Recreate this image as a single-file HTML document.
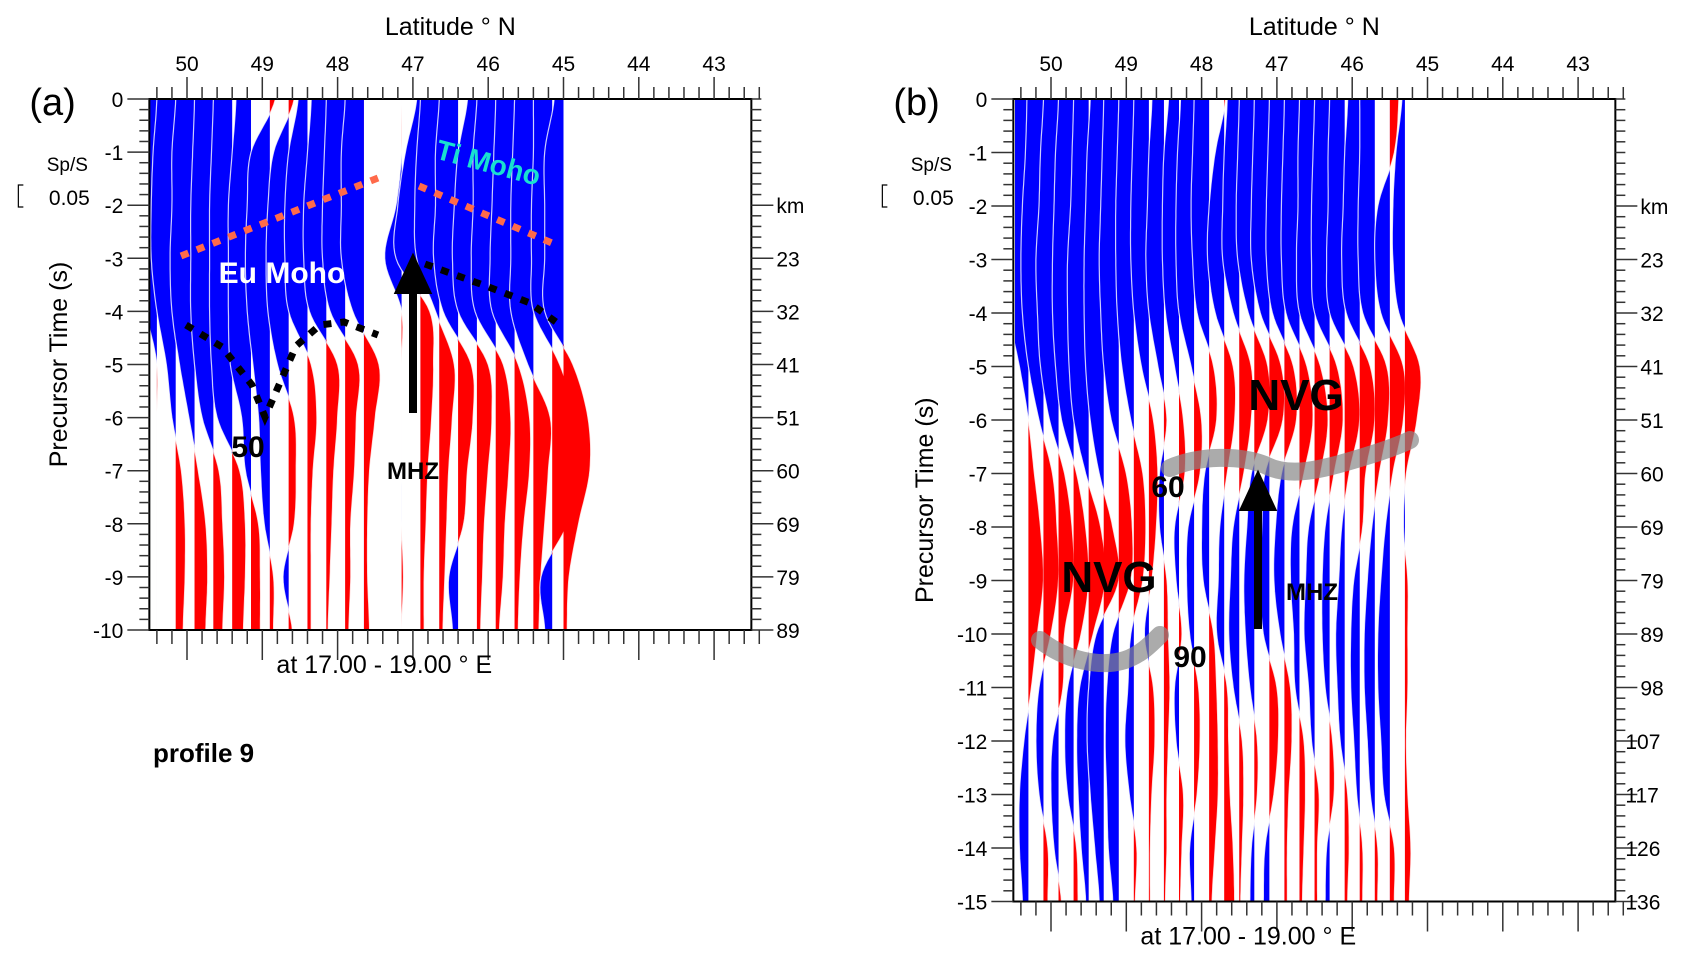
<!DOCTYPE html>
<html><head><meta charset="utf-8">
<style>
html,body{margin:0;padding:0;background:#fff;}
svg{display:block;font-family:"Liberation Sans",Arial,sans-serif;}
</style></head>
<body>
<svg id="fig" width="1684" height="964" viewBox="0 0 1684 964" xmlns="http://www.w3.org/2000/svg">
<defs>
<clipPath id="clipA"><rect x="149" y="99" width="602" height="531"/></clipPath>
<clipPath id="clipB"><rect x="1015" y="99" width="602" height="803"/></clipPath>
</defs>
<g id="panelA"></g>
<g id="panelB"></g>
</svg>
<script>
// ---------- DATA ----------
const latsA = [50.4,50.15,49.9,49.65,49.4,49.15,48.9,48.65,48.4,48.15,47.9,47.65,47.15,46.9,46.65,46.4,46.15,45.9,45.65,45.4,45.15,45.0];
const ampsA = [
[-1.2,-1.2,-1.3,-1.2,-0.6,0,0,0,0,0,0],
[-1,-1.2,-1.3,-1.3,-1,-0.5,-0.2,0.3,0.5,0.5,0.4],
[-1,-1.2,-1.2,-1.3,-1.2,-0.8,-0.3,0.2,0.6,0.7,0.6],
[-1,-1.1,-1.2,-1.2,-1.2,-1,-0.6,0.3,0.5,0.6,0.5],
[-1,-1.1,-1.2,-1.2,-1.2,-1.1,-0.8,0.4,0.7,0.7,0.6],
[-0.8,-1,-1.2,-1.2,-1.2,-1.1,-0.5,-0.3,0.4,0.5,0.5],
[0.3,-1,-1.2,-1.3,-1.2,-0.9,-0.6,-0.5,-0.3,0.2,0.2],
[0.3,-0.8,-1.1,-1.2,-1.1,-0.6,0.3,0.4,0.3,-0.3,0.2],
[-0.5,-1,-1.2,-1.2,-1,0.2,0.5,0.3,0.2,0.2,0.2],
[-0.8,-1,-1.2,-1.2,-0.9,0.6,0.6,0.4,0.3,0.2,0.1],
[-1,-1.1,-1.2,-1.2,-0.8,0.7,0.6,0.5,0.3,0.3,0.2],
[-1,-1.2,-1.2,-1.2,-0.6,0.8,0.6,0.3,0.2,0.2,0.3],
[0,0,-0.3,-0.9,0,0,0,0,0,0.1,0],
[-0.2,-0.8,-1.2,-1.3,0.5,0.7,0.6,0.4,0.3,0.2,0.2],
[-1,-1.2,-1.3,-1.2,-0.2,0.8,0.7,0.5,0.4,0.3,0.2],
[-1,-1.2,-1.2,-1.3,-0.8,0.7,0.8,0.5,0.3,-0.5,-0.3],
[-0.5,-1,-1.2,-1.3,-1,0.6,0.8,0.6,0.4,0.3,0.2],
[-1,-1.2,-1.2,-1.3,-1.1,0.4,0.8,0.7,0.5,0.4,0.2],
[-1,-1.1,-1.2,-1.3,-1.2,0.2,0.8,0.8,0.5,0.3,0.2],
[-1,-1.1,-1.2,-1.2,-1.2,-0.3,0.9,0.8,0.6,0.4,0.3],
[-1,-1,-1.1,-1.1,-1,0.4,1.2,1.3,0.8,-0.6,-0.4],
[-0.5,-1,-1,-1,-1,0.5,1.3,1.4,0.8,0.3,0.2]
];
const latsB = [50.3,50.1,49.9,49.7,49.5,49.3,49.1,48.9,48.7,48.5,48.3,48.1,47.9,47.7,47.5,47.3,47.1,46.9,46.7,46.5,46.3,46.1,45.9,45.7,45.5,45.3];
const ampsB = [
[-1.2,-1.3,-1.4,-1.5,-1.3,-0.6,0,0.4,0.8,1.0,0.6,0.2,-0.3,-0.6,-0.6,-0.4],
[-1.1,-1.2,-1.4,-1.5,-1.4,-1.0,-0.3,0.6,0.9,1.0,0.5,-0.3,-0.5,-0.3,0.3,0.3],
[-1.0,-1.2,-1.3,-1.5,-1.4,-1.2,-0.6,0.4,0.9,1.0,0.4,0.3,-0.4,-0.5,-0.3,0.2],
[-1.0,-1.2,-1.3,-1.4,-1.4,-1.2,-0.8,0.2,0.8,1.0,0.5,-0.4,-0.6,-0.4,0.2,0.3],
[-1.0,-1.1,-1.2,-1.4,-1.4,-1.3,-1.0,-0.2,0.8,1.1,0.3,-0.6,-0.8,-0.7,-0.5,-0.2],
[-0.9,-1.1,-1.2,-1.3,-1.3,-1.2,-0.9,-0.3,0.6,1.0,-0.5,-1.0,-1.1,-0.9,-0.6,-0.3],
[-1.0,-1.1,-1.2,-1.3,-1.2,-1.0,-0.5,0.5,0.9,0.8,-0.4,-0.8,-0.9,-0.8,-0.7,-0.4],
[-1.0,-1.1,-1.2,-1.2,-1.1,-0.8,-0.2,0.6,0.8,0.6,-0.2,-0.4,-0.6,-0.3,0.2,0.1],
[-1.0,-1.1,-1.2,-1.2,-1.0,-0.5,0.3,0.6,0.5,0.2,-0.3,0.3,0.4,0.2,0.1,0.1],
[-0.8,-1.0,-1.1,-1.2,-1.0,-0.4,0.2,-0.3,-0.3,0.2,0.3,0.4,0.3,0.2,0.2,0.1],
[-0.7,-1.0,-1.1,-1.1,-0.9,-0.3,0.3,0.4,-0.3,-0.2,0.2,-0.3,-0.2,0.3,0.2,0.1],
[-0.9,-1.1,-1.2,-1.2,-1.0,-0.2,0.5,0.4,-0.4,-0.5,-0.3,0.3,0.4,0.2,-0.3,-0.2],
[-1.0,-1.1,-1.2,-1.1,-0.8,0.3,0.5,-0.3,-0.5,-0.4,0.3,0.5,0.6,0.6,0.4,0.2],
[0.1,-0.6,-1.0,-1.1,-0.6,0.6,0.7,0.2,-0.3,-0.4,-0.5,0.2,0.3,0.4,0.6,0.7],
[-0.8,-1.0,-1.1,-1.1,-0.4,0.8,0.8,0.3,-0.4,-0.6,-0.7,-0.4,0.2,0.3,0.2,0.1],
[-1.0,-1.1,-1.2,-1.1,-0.4,0.9,0.9,-0.2,-0.5,-0.7,-0.6,-0.3,0.2,0.2,-0.2,-0.3],
[-1.0,-1.1,-1.2,-1.2,-0.6,0.8,0.9,-0.3,-0.5,-0.6,-0.4,0.5,0.6,0.3,-0.3,-0.4],
[-1.0,-1.1,-1.2,-1.2,-0.8,0.6,0.8,-0.2,-0.6,-0.7,-0.3,0.4,0.5,0.3,0.2,0.2],
[-1.0,-1.1,-1.2,-1.2,-0.9,0.5,0.9,0.3,-0.5,-0.6,-0.4,-0.3,0.3,0.4,0.3,0.2],
[-1.0,-1.1,-1.1,-1.2,-1.0,0.4,0.9,0.4,-0.4,-0.6,-0.7,-0.4,-0.2,0.3,0.2,0.2],
[-1.0,-1.1,-1.2,-1.2,-1.0,0.5,0.9,0.3,-0.3,-0.5,-0.5,-0.3,0.2,0.3,-0.2,-0.3],
[-1.0,-1.1,-1.1,-1.2,-1.0,0.6,1.0,0.3,-0.2,-0.4,-0.6,-0.5,-0.3,0.2,0.3,0.2],
[-0.8,-1.0,-1.1,-1.2,-0.9,0.7,1.0,0.4,0.2,-0.4,-0.6,-0.6,-0.4,-0.2,0.2,0.2],
[-1.0,-1.0,-1.1,-1.1,-0.8,0.8,0.9,0.3,-0.2,-0.5,-0.7,-0.7,-0.5,-0.3,0.2,0.2],
[0.6,0.3,-0.8,-1.0,-0.6,0.9,0.9,0.2,-0.3,-0.6,-0.8,-0.8,-0.6,-0.4,0.3,0.3],
[-0.2,-0.6,-0.8,-0.8,-0.4,1.0,0.8,0.1,-0.1,0.2,0.2,0.2,0.1,0.2,0.4,0.3]
];
const latTicks = [50,49,48,47,46,45,44,43];
const kmLabelsA = ["km","23","32","41","51","60","69","79","89"];
const kmLabelsB = ["km","23","32","41","51","60","69","79","89","98","107","117","126","136"];

// ---------- HELPERS ----------
const NS="http://www.w3.org/2000/svg";
function mk(parent,tag,attrs,txt){const e=document.createElementNS(NS,tag);for(const k in attrs)e.setAttribute(k,attrs[k]);if(txt!==undefined)e.textContent=txt;parent.appendChild(e);return e;}
function smooth(a,steps){
  const out=[];
  for(let i=0;i<a.length-1;i++){
    const p0=a[Math.max(i-1,0)],p1=a[i],p2=a[i+1],p3=a[Math.min(i+2,a.length-1)];
    for(let s=0;s<steps;s++){
      const t=s/steps,t2=t*t,t3=t2*t;
      out.push({t:i+t,v:0.5*((2*p1)+(-p0+p2)*t+(2*p0-5*p1+4*p2-p3)*t2+(-p0+3*p1-3*p2+p3)*t3)});
    }
  }
  out.push({t:a.length-1,v:a[a.length-1]});
  return out;
}

function drawPanel(g,cfg){
  const xs=lat=>cfg.x0+(50-lat)*75.3;
  const ys=t=>99-t*cfg.sy;
  const left=cfg.x0-0.5*75.3, right=left+602;
  const bottom=ys(-cfg.tmax);
  const tr=mk(g,'g',{'clip-path':'url(#'+cfg.clip+')'});
  
  
  const d=cfg.spacing*75.3;
  cfg.lats.forEach((lat,i)=>{
    const bx=xs(lat), s=smooth(cfg.amps[i],10);
    const last=cfg.amps[i].length-1;
    let pr=[bx+','+ys(0)], pb=[bx+','+ys(0)], pl=[];
    s.forEach(p=>{
      const y=ys(-p.t);
      pr.push((bx+Math.max(p.v,0)*d).toFixed(1)+','+y.toFixed(1));
      pb.push((bx+Math.min(p.v,0)*d).toFixed(1)+','+y.toFixed(1));
      pl.push((bx+p.v*d).toFixed(1)+','+y.toFixed(1));
    });
    pr.push(bx+','+ys(-last));pb.push(bx+','+ys(-last));
    const b=mk(tr,'polygon',{points:pb.join(' '),fill:'#0000ff'});
    
    
    const r=mk(tr,'polygon',{points:pr.join(' '),fill:'#ff0000'});
    
    
    const l=mk(tr,'polyline',{points:pl.join(' '),fill:'none',stroke:'#fff','stroke-width':1.2,opacity:0.8});
    
    
  });
  const fr=mk(g,'rect',{x:left,y:99,width:602,height:bottom-99,fill:'none',stroke:'#000','stroke-width':2});
  
  
  const ax=mk(g,'g',{stroke:'#333','stroke-width':1.5});
  
  
  for(let k=0;k<=40;k++){
    const lat=50.4-k*0.2, x=xs(lat);
    const major=Math.abs(lat-Math.round(lat))<0.01;
    mk(ax,'line',{x1:x,y1:99,x2:x,y2:99-(major?22:12)});
    mk(ax,'line',{x1:x,y1:bottom,x2:x,y2:bottom+(major?30:14)});
  }
  latTicks.forEach(v=>{
    const t=mk(g,'text',{x:xs(v),y:71,'font-size':21,'text-anchor':'middle'},String(v));
    
    
  });
  const ay=mk(g,'g',{stroke:'#333','stroke-width':1.5});
  
  
  for(let k=0;k<=cfg.tmax*5;k++){
    const t=-k/5, y=ys(t), major=k%5===0;
    mk(ay,'line',{x1:left,y1:y,x2:left-(major?22:10),y2:y});
    mk(ay,'line',{x1:right,y1:y,x2:right+(major&&k>=10?22:10),y2:y});
  }
  for(let s=0;s<=cfg.tmax;s++){
    const t=mk(g,'text',{x:left-26,y:ys(-s)+8,'font-size':21,'text-anchor':'end'},s===0?'0':String(-s));
    
    
  }
  cfg.km.forEach((lab,i)=>{
    const t=mk(g,'text',{x:right+(lab.length>2?10:25),y:ys(-(i+2))+8,'font-size':21},lab);
    
    
  });
  const tt=mk(g,'text',{x:(left+right)/2,y:35,'font-size':25,'text-anchor':'middle'},'Latitude ° N');
  
  
  const yt=mk(g,'text',{x:0,y:0,'font-size':25,'text-anchor':'middle',transform:'translate('+(cfg.ylx)+','+((99+bottom)/2)+') rotate(-90)'},'Precursor Time (s)');
  
  
  const bt=mk(g,'text',{x:xs(47.38),y:bottom+43,'font-size':25,'text-anchor':'middle'},'at 17.00 - 19.00 ° E');
  
  
  const pl=mk(g,'text',{x:left-120,y:115,'font-size':38},cfg.label);
  
  
  const sp=mk(g,'text',{x:left-82,y:171,'font-size':19,'text-anchor':'middle'},'Sp/S');
  
  
  const sv=mk(g,'text',{x:left-80,y:205,'font-size':21,'text-anchor':'middle'},'0.05');
  
  
  const sb=mk(g,'path',{d:'M'+(left-126)+',185 h-5 v22 h5',fill:'none',stroke:'#000','stroke-width':1.2});
  
  
  return {xs,ys};
}

drawPanel(document.getElementById('panelA'),{x0:187,sy:53.1,tmax:10,lats:latsA,amps:ampsA,spacing:0.25,clip:'clipA',km:kmLabelsA,ylx:67,label:'(a)'});
drawPanel(document.getElementById('panelB'),{x0:1051,sy:53.5,tmax:15,lats:latsB,amps:ampsB,spacing:0.2,clip:'clipB',km:kmLabelsB,ylx:933,label:'(b)'});

// ---------- ANNOTATIONS A ----------
const gA=document.getElementById('panelA');
let e;
e=mk(gA,'polyline',{points:'181,256 378,178',fill:'none',stroke:'#ff6a4a','stroke-width':7,'stroke-dasharray':'8 9'});

e=mk(gA,'polyline',{points:'419,186 559,246',fill:'none',stroke:'#ff6a4a','stroke-width':7,'stroke-dasharray':'8 9'});

e=mk(gA,'polyline',{points:'186,325 222,347 252,385 265,417 296,346 320,325 344,322 378,335',fill:'none',stroke:'#000','stroke-width':7,'stroke-dasharray':'8 9'});

e=mk(gA,'polyline',{points:'425,264 486,286 530,303 556,322',fill:'none',stroke:'#000','stroke-width':7,'stroke-dasharray':'8 9'});

e=mk(gA,'text',{x:486,y:172,'font-size':28,'font-weight':'bold',fill:'#19e0d0','text-anchor':'middle',transform:'rotate(15 486 172)'},'Ti Moho');

e=mk(gA,'text',{x:282,y:283,'font-size':30,'font-weight':'bold',fill:'#fff','text-anchor':'middle'},'Eu Moho');

e=mk(gA,'text',{x:248,y:457,'font-size':30,'font-weight':'bold','text-anchor':'middle'},'50');

e=mk(gA,'text',{x:413,y:479,'font-size':24,'font-weight':'bold','text-anchor':'middle'},'MHZ');

e=mk(gA,'path',{d:'M413,413 V288 M400,290 L413,262 L426,290 Z',stroke:'#000','stroke-width':8,fill:'#000'});

e=mk(gA,'text',{x:153,y:762,'font-size':26,'font-weight':'bold'},'profile 9');


// ---------- ANNOTATIONS B ----------
const gB=document.getElementById('panelB');
e=mk(gB,'path',{d:'M1040,640 C1065,660 1100,668 1125,660 C1140,655 1150,645 1160,635',fill:'none',stroke:'#888','stroke-width':18,opacity:0.7,'stroke-linecap':'round'});

e=mk(gB,'path',{d:'M1170,468 C1200,455 1240,455 1265,465 C1290,478 1320,470 1360,458 C1380,452 1400,445 1410,440',fill:'none',stroke:'#888','stroke-width':18,opacity:0.7,'stroke-linecap':'round'});

e=mk(gB,'text',{x:1296,y:410,'font-size':44,'font-weight':'bold','text-anchor':'middle'},'NVG');

e=mk(gB,'text',{x:1109,y:592,'font-size':44,'font-weight':'bold','text-anchor':'middle'},'NVG');

e=mk(gB,'text',{x:1168,y:497,'font-size':30,'font-weight':'bold','text-anchor':'middle'},'60');

e=mk(gB,'text',{x:1190,y:667,'font-size':30,'font-weight':'bold','text-anchor':'middle'},'90');

e=mk(gB,'text',{x:1312,y:600,'font-size':24,'font-weight':'bold','text-anchor':'middle'},'MHZ');

e=mk(gB,'path',{d:'M1258,629 V505 M1245,507 L1258,479 L1271,507 Z',stroke:'#000','stroke-width':8,fill:'#000'});

</script>
</body></html>
